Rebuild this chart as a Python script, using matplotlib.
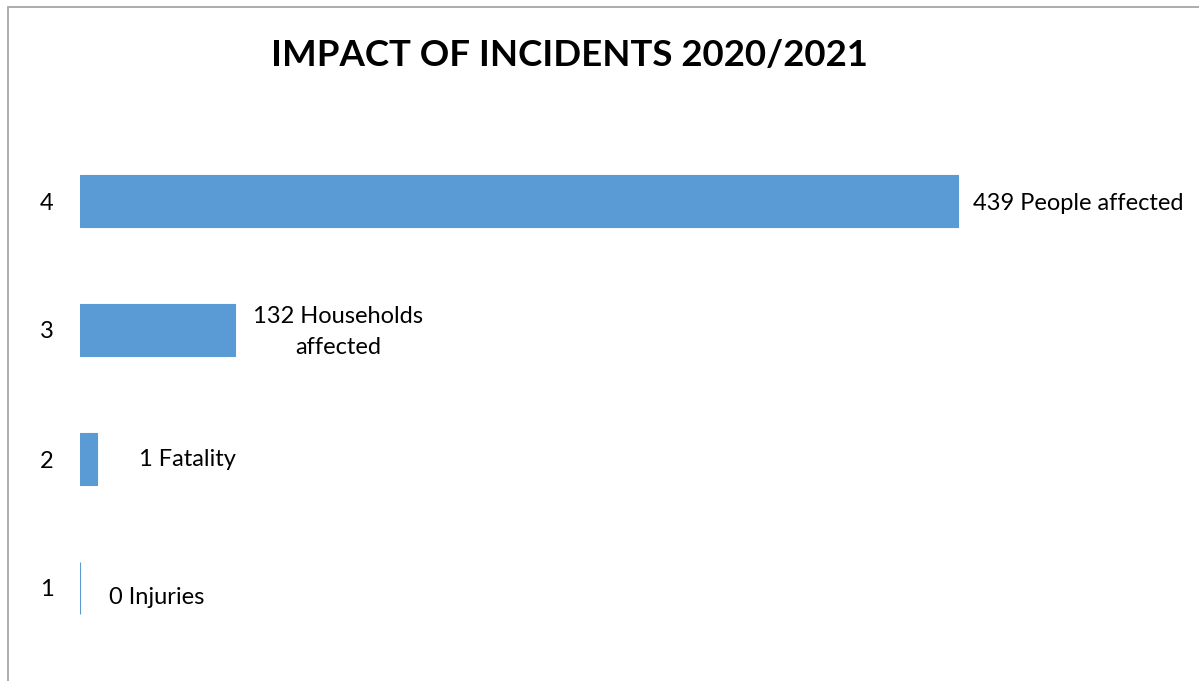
import matplotlib.pyplot as plt
from matplotlib.patches import Rectangle

categories = ["1", "2", "3", "4"]
bar_lengths = [0, 8.5, 77.5, 439]
bar_labels = ["0 Injuries", "1 Fatality", "132 Households\naffected", "439 People affected"]

plt.rcParams['font.family'] = ['Lato', 'DejaVu Sans']

fig = plt.figure(figsize=(11.99, 6.81), dpi=100)
ax = fig.add_axes([80 / 1199, 1 - 652.5 / 681, 1110 / 1199, 516 / 681])

ypos = range(1, len(categories) + 1)
ax.barh(ypos, bar_lengths, height=0.4, color="#5B9BD5", edgecolor="#5B9BD5", linewidth=0.8)

ax.set_xlim(0, 555)
ax.set_ylim(0.5, 4.5)
ax.set_yticks(list(ypos))
ax.set_yticklabels(categories, fontsize=17)
ax.tick_params(axis="y", length=0, pad=19)
ax.set_xticks([])
for s in ax.spines.values():
    s.set_visible(False)

# label offsets (pixels) and alignment per bar
offsets = [(29, -10), (42, 0), (103, -2), (15, -2)]
aligns = ["left", "left", "center", "left"]
for y, v, lab, off, ha in zip(ypos, bar_lengths, bar_labels, offsets, aligns):
    ax.annotate(lab, (v, y), xytext=off, textcoords="offset pixels",
                ha=ha, va="center", fontsize=17, linespacing=1.55)

fig.text(569 / 1199, 1 - 56 / 681, "IMPACT OF INCIDENTS 2020/2021",
         ha="center", va="center", fontsize=26.4, fontweight="bold")

# outer chart border (runs off the right and bottom edges)
fig.patches.append(Rectangle((8 / 1199, -0.1), 1.2, 1 - 7 / 681 + 0.1,
                             transform=fig.transFigure, fill=False,
                             edgecolor="#A6A6A6", linewidth=1.3))

fig.savefig("out.png", dpi=100)
